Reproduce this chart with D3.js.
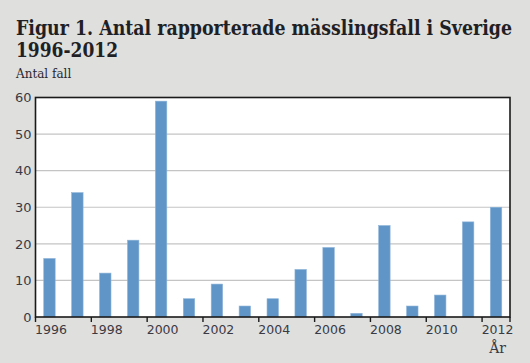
<!DOCTYPE html>
<html><head><meta charset="utf-8">
<script src="https://cdn.jsdelivr.net/npm/d3@7"></script>
<style>body{margin:0;background:#dfdfdd;} svg{display:block;}</style>
</head><body>
<script>
const years = ["1996","1997","1998","1999","2000","2001","2002","2003","2004","2005","2006","2007","2008","2009","2010","2011","2012"];
const cases = [16,34,12,21,59,5,9,3,5,13,19,1,25,3,6,26,30];
const yTicks = [0,10,20,30,40,50,60];
const xTickLabels = ["1996","1998","2000","2002","2004","2006","2008","2010","2012"];

const W=530,H=363;
const m={left:35.5,right:20,top:97.5,bottom:46};
const svg=d3.select("body").append("svg").attr("width",W).attr("height",H);
svg.append("rect").attr("width",W).attr("height",H).attr("fill","#dfdfdd");

const x=d3.scaleBand().domain(years).range([m.left,W-m.right]).paddingInner(0.59).paddingOuter(0.295);
const y=d3.scaleLinear().domain([0,60]).range([H-m.bottom,m.top]);

svg.append("rect").attr("x",m.left).attr("y",m.top).attr("width",W-m.right-m.left).attr("height",H-m.bottom-m.top).attr("fill","#fff");

// grid
svg.append("g").selectAll("line").data(yTicks.filter(d=>d>0&&d<60)).join("line")
  .attr("x1",m.left).attr("x2",W-m.right).attr("y1",d=>y(d)).attr("y2",d=>y(d))
  .attr("stroke","#c4c4c4").attr("stroke-width",1.2);

// bars
svg.append("g").selectAll("rect").data(years).join("rect")
  .attr("x",d=>x(d)).attr("width",x.bandwidth())
  .attr("y",(d,i)=>y(cases[i])).attr("height",(d,i)=>y(0)-y(cases[i]))
  .attr("fill","#5f95c7").attr("stroke","#8fb4d9").attr("stroke-width",0.6);

// frame
svg.append("rect").attr("x",m.left).attr("y",m.top).attr("width",W-m.right-m.left).attr("height",H-m.bottom-m.top)
  .attr("fill","none").attr("stroke","#1a1a1a").attr("stroke-width",1.6);

const tickFont="'DejaVu Sans', sans-serif";
// y axis labels
const yAxis=d3.axisLeft(y).tickValues(yTicks).tickSize(0).tickPadding(4);
const ga=svg.append("g").attr("transform",`translate(${m.left},0)`).call(yAxis);
ga.select(".domain").remove();
ga.selectAll("text").attr("font-family",tickFont).attr("font-size",13).attr("fill","#3a3a44");

// x ticks: at band starts of even years, plus right edge
const step=x.step();
const tickPos=xTickLabels.map(d=>x(d)-(step-x.bandwidth())/2);
tickPos.push(W-m.right);
svg.append("g").selectAll("line").data(tickPos).join("line")
  .attr("x1",d=>d).attr("x2",d=>d).attr("y1",H-m.bottom).attr("y2",H-m.bottom+5)
  .attr("stroke","#1a1a1a").attr("stroke-width",1.4);
svg.append("g").selectAll("text").data(xTickLabels).join("text")
  .attr("x",d=>x(d)+x.bandwidth()/2+1.5).attr("y",334)
  .attr("text-anchor","middle").attr("font-family",tickFont).attr("font-size",12.5).attr("fill","#3a3a44").text(d=>d);

svg.append("text").attr("x",W-m.right-4).attr("y",353).attr("text-anchor","end")
  .attr("font-family","'DejaVu Serif', serif").attr("font-size",14).attr("fill","#3a3a44").text("År");

// titles
const titleFont="'DejaVu Serif Condensed', 'DejaVu Serif', serif";
svg.append("text").attr("x",16).attr("y",35).attr("font-family",titleFont).attr("font-weight","bold")
  .attr("font-stretch","condensed")
  .attr("font-size",19.5).attr("fill","#1f1f26").attr("textLength",496).attr("lengthAdjust","spacingAndGlyphs")
  .text("Figur 1. Antal rapporterade mässlingsfall i Sverige");
svg.append("text").attr("x",16).attr("y",57).attr("font-family",titleFont).attr("font-weight","bold")
  .attr("font-stretch","condensed")
  .attr("font-size",19.5).attr("fill","#1f1f26").attr("textLength",102).attr("lengthAdjust","spacingAndGlyphs")
  .text("1996-2012");
svg.append("text").attr("x",16).attr("y",78).attr("font-family","'DejaVu Serif', serif")
  .attr("font-size",12).attr("fill","#2a2a30").text("Antal fall");
</script>
</body></html>
